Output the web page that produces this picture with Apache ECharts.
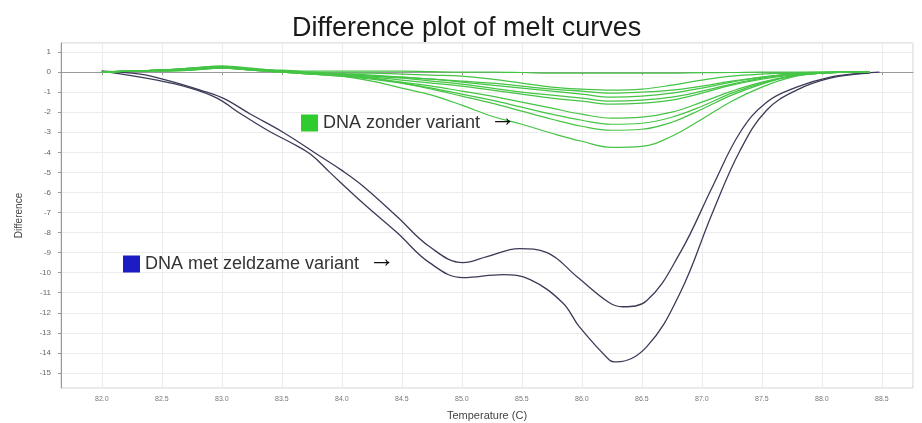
<!DOCTYPE html>
<html>
<head>
<meta charset="utf-8">
<title>Difference plot of melt curves</title>
<script src="https://cdn.jsdelivr.net/npm/echarts@6.0.0/dist/echarts.min.js"></script>
<style>
  html, body { margin: 0; padding: 0; background: #fff; }
  #chart { width: 922px; height: 423px; }
</style>
</head>
<body>
<div id="chart"></div>
<script>
// temperatures (C) for the green "zonder variant" curves
var tempGreen = [82.0, 82.25, 82.5, 82.75, 83.0, 83.25, 83.5, 83.75, 84.0, 84.25, 84.5, 84.75, 85.0, 85.25, 85.5, 85.75, 86.0, 86.25, 86.5, 86.75, 87.0, 87.25, 87.5, 87.75, 88.0, 88.25, 88.4];

// difference values, one array per green curve
var greenA = [0, 0.05, 0.1, 0.2, 0.3, 0.15, 0.05, -0.05, -0.2, -0.45, -0.8, -1.15, -1.65, -2.2, -2.6, -3.05, -3.45, -3.75, -3.7, -3.2, -2.35, -1.45, -0.75, -0.25, -0.05, 0, 0];
var greenB = [0, 0.05, 0.1, 0.2, 0.25, 0.15, 0.05, -0.05, -0.15, -0.3, -0.55, -0.85, -1.2, -1.55, -1.95, -2.35, -2.7, -2.9, -2.85, -2.5, -1.85, -1.15, -0.6, -0.2, -0.05, 0, 0];
var greenC = [0, 0.05, 0.1, 0.15, 0.25, 0.1, 0, -0.1, -0.2, -0.35, -0.55, -0.8, -1.1, -1.4, -1.75, -2.1, -2.4, -2.6, -2.55, -2.25, -1.7, -1.05, -0.55, -0.2, -0.05, 0, 0];
var greenD = [0, 0.05, 0.1, 0.15, 0.2, 0.1, 0, -0.1, -0.2, -0.3, -0.5, -0.7, -0.95, -1.2, -1.5, -1.8, -2.1, -2.3, -2.25, -2.0, -1.5, -0.95, -0.5, -0.2, -0.05, 0, 0];
var greenE = [0, 0.05, 0.05, 0.1, 0.2, 0.1, 0, -0.1, -0.15, -0.25, -0.4, -0.55, -0.7, -0.9, -1.1, -1.3, -1.45, -1.6, -1.55, -1.4, -1.05, -0.65, -0.35, -0.15, -0.05, 0, 0];
var greenF = [0, 0.05, 0.1, 0.15, 0.25, 0.15, 0.05, -0.05, -0.1, -0.2, -0.3, -0.45, -0.6, -0.8, -1.0, -1.15, -1.3, -1.45, -1.4, -1.25, -0.95, -0.6, -0.3, -0.1, -0.03, 0, 0];
var greenG = [0, 0.05, 0.1, 0.15, 0.2, 0.1, 0.05, -0.05, -0.1, -0.15, -0.25, -0.35, -0.5, -0.65, -0.8, -0.95, -1.1, -1.25, -1.2, -1.05, -0.8, -0.5, -0.25, -0.1, -0.02, 0, 0];
var greenH = [0, 0.05, 0.05, 0.1, 0.2, 0.1, 0.05, 0, -0.05, -0.05, -0.1, -0.15, -0.2, -0.35, -0.55, -0.75, -0.85, -0.9, -0.85, -0.65, -0.4, -0.2, -0.1, -0.05, 0, 0, 0];
var greenI = [0, 0.05, 0.1, 0.15, 0.25, 0.15, 0.1, 0.05, 0.05, 0.05, 0.05, 0.02, 0, 0, -0.02, -0.05, -0.05, -0.05, -0.05, -0.05, -0.03, -0.02, 0, 0, 0, 0, 0];
var greenJ = [0, 0.05, 0.1, 0.2, 0.3, 0.2, 0.05, -0.05, -0.1, -0.2, -0.25, -0.35, -0.45, -0.55, -0.7, -0.85, -0.95, -1.05, -1.0, -0.9, -0.7, -0.45, -0.25, -0.1, -0.02, 0, 0];
var greenCurves = [greenA, greenB, greenC, greenD, greenE, greenF, greenG, greenH, greenI, greenJ];

// the two dark "met zeldzame variant" curves
var tempUpper = [82.0, 82.32, 82.57, 82.82, 83.01, 83.24, 83.51, 83.82, 84.0, 84.18, 84.46, 84.73, 85.01, 85.21, 85.48, 85.71, 85.96, 86.23, 86.34, 86.54, 86.82, 87.09, 87.32, 87.54, 87.79, 88.07, 88.34, 88.48];
var diffUpper = [0.05, -0.1, -0.45, -0.9, -1.3, -2.1, -3.0, -4.2, -4.9, -5.7, -7.2, -8.7, -9.5, -9.2, -8.8, -9.0, -10.2, -11.5, -11.7, -11.4, -9.0, -5.7, -3.0, -1.5, -0.75, -0.25, -0.05, 0];
var tempLower = [82.0, 82.46, 82.74, 82.96, 83.15, 83.38, 83.57, 83.74, 83.9, 84.18, 84.46, 84.73, 85.01, 85.34, 85.57, 85.84, 85.98, 86.23, 86.29, 86.54, 86.82, 87.09, 87.32, 87.54, 87.79, 88.07, 88.4];
var diffLower = [0.05, -0.4, -0.8, -1.3, -2.05, -2.9, -3.5, -4.1, -5.0, -6.55, -8.0, -9.5, -10.25, -10.1, -10.35, -11.5, -12.7, -14.35, -14.45, -13.7, -11.0, -7.0, -3.9, -1.9, -0.9, -0.3, -0.05];

var nameGreen = 'DNA zonder variant';
var nameDark = 'DNA met zeldzame variant';

var chart = echarts.init(document.getElementById('chart'));

function pairs(xs, ys) {
  var out = [];
  for (var i = 0; i < xs.length; i++) out.push([xs[i], ys[i]]);
  return out;
}

var series = [];
greenCurves.forEach(function (c) {
  series.push({
    name: nameGreen,
    type: 'line',
    data: pairs(tempGreen, c),
    smooth: 0.4,
    symbol: 'none',
    lineStyle: { color: '#45c445', width: 1.2 },
    itemStyle: { color: '#2ecc2e' },
    z: 3
  });
});
series.push({
  name: nameDark, type: 'line', data: pairs(tempUpper, diffUpper),
  smooth: 0.4, symbol: 'none',
  lineStyle: { color: '#3b3b58', width: 1.3 }, itemStyle: { color: '#1c1cc4' }, z: 2
});
series.push({
  name: nameDark, type: 'line', data: pairs(tempLower, diffLower),
  smooth: 0.4, symbol: 'none',
  lineStyle: { color: '#3b3b58', width: 1.3 }, itemStyle: { color: '#1c1cc4' }, z: 2
});

var legendText = {
  fontSize: 18,
  color: '#333',
  fontFamily: 'Liberation Sans',
  rich: {
    a: { fontSize: 26, fontWeight: 'bold', color: '#111', fontFamily: 'Liberation Sans', padding: [0, 0, 8, 0] }
  }
};

chart.setOption({
  animation: false,
  backgroundColor: '#fff',
  title: {
    text: 'Difference plot of melt curves',
    left: 292,
    top: 15,
    padding: 0,
    textStyle: { fontSize: 27, fontWeight: 'normal', color: '#1a1a1a', fontFamily: 'Liberation Sans' }
  },
  legend: [
    {
      data: [{ name: nameGreen, itemStyle: { color: '#2ecc2e' } }],
      left: 301, top: 106, padding: 0,
      icon: 'rect', itemWidth: 17, itemHeight: 17, itemGap: 6,
      selectedMode: false,
      formatter: function (n) { return n + '  {a|→}'; },
      textStyle: legendText
    },
    {
      data: [{ name: nameDark, itemStyle: { color: '#1c1cc4' } }],
      left: 123, top: 247, padding: 0,
      icon: 'rect', itemWidth: 17, itemHeight: 17, itemGap: 6,
      selectedMode: false,
      formatter: function (n) { return n + '  {a|→}'; },
      textStyle: legendText
    }
  ],
  grid: { left: 61, top: 43, right: 9, bottom: 35, show: true, borderColor: '#cfcfcf', borderWidth: 1, outerBoundsMode: 'none', containLabel: false },
  xAxis: {
    type: 'value',
    min: 81.66, max: 88.76, splitNumber: 14,
    name: 'Temperature (C)', nameLocation: 'middle', nameGap: 22,
    nameTextStyle: { fontSize: 11, color: '#444', fontFamily: 'Liberation Sans' },
    axisLine: { show: true, lineStyle: { color: '#9a9a9a' } },
    axisTick: { show: true, length: 3, lineStyle: { color: '#999' } },
    axisLabel: {
      fontSize: 7, color: '#777', margin: 8, showMinLabel: false, showMaxLabel: false,
      formatter: function (v) { return v.toFixed(1); }
    },
    splitLine: { show: true, lineStyle: { color: '#ececec', width: 1 } }
  },
  yAxis: {
    type: 'value',
    min: -15.75, max: 1.45, splitNumber: 17,
    name: 'Difference', nameLocation: 'middle', nameGap: 37, nameRotate: 90,
    nameTextStyle: { fontSize: 10, color: '#444', fontFamily: 'Liberation Sans' },
    axisLine: { show: true, lineStyle: { color: '#9a9a9a' } },
    axisTick: { show: true, length: 3, lineStyle: { color: '#999' } },
    axisLabel: {
      fontSize: 8, color: '#666', margin: 10, showMinLabel: false, showMaxLabel: false,
      formatter: function (v) { return Math.round(v).toString(); }
    },
    splitLine: { show: true, lineStyle: { color: '#ececec', width: 1 } }
  },
  series: series
});
</script>
</body>
</html>
